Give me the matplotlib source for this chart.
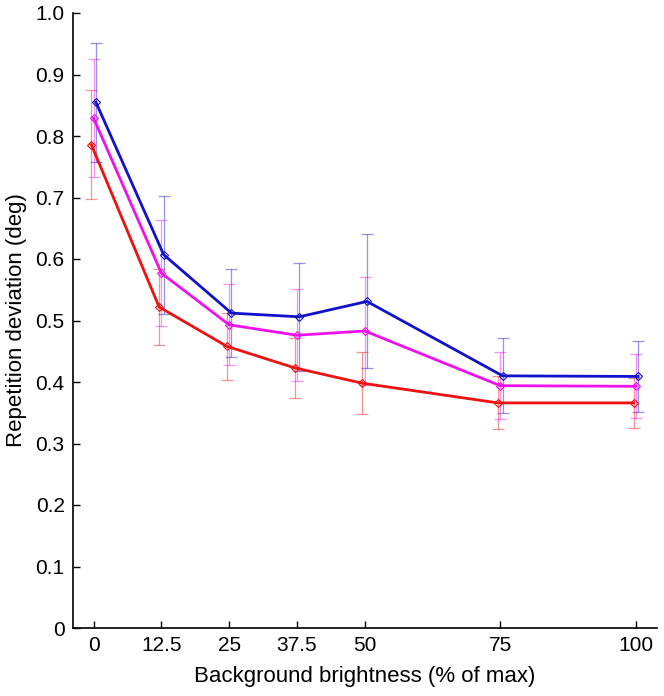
import matplotlib
matplotlib.use("Agg")
import matplotlib.pyplot as plt
import numpy as np

plt.rcParams['font.family'] = ['Liberation Sans', 'DejaVu Sans']

brightness = [0, 12.5, 25, 37.5, 50, 75, 100]
tick_labels = ["0", "12.5", "25", "37.5", "50", "75", "100"]

red_mean = [0.786, 0.522, 0.458, 0.423, 0.398, 0.366, 0.366]
red_err = [0.088, 0.062, 0.055, 0.049, 0.050, 0.043, 0.041]
magenta_mean = [0.829, 0.577, 0.493, 0.476, 0.483, 0.394, 0.393]
magenta_err = [0.096, 0.086, 0.066, 0.075, 0.088, 0.054, 0.052]
blue_mean = [0.855, 0.607, 0.512, 0.506, 0.531, 0.410, 0.409]
blue_err = [0.097, 0.096, 0.071, 0.088, 0.109, 0.061, 0.058]

offsets = {"red": -0.42, "magenta": 0.0, "blue": 0.42}

fig = plt.figure(figsize=(6.64, 6.96), dpi=100)
ax = fig.add_axes([73 / 664, 68 / 696, 584 / 664, 615 / 696])

series = [
    (red_mean, red_err, "#ee1111", "red"),
    (magenta_mean, magenta_err, "#ee11ee", "magenta"),
    (blue_mean, blue_err, "#1111cc", "blue"),
]
x = np.array(brightness)
for mean, err, col, key in series:
    xs = x + offsets[key]
    ax.errorbar(xs, mean, yerr=err, fmt='none', ecolor=col, alpha=0.45,
                elinewidth=0.9, capsize=4, capthick=0.9, zorder=2)
for mean, err, col, key in series:
    xs = x + offsets[key]
    ax.plot(xs, mean, color=col, lw=2.0, marker='D', markersize=4,
            markerfacecolor='none', markeredgecolor=col, markeredgewidth=0.8,
            zorder=3)

ax.set_xlim(-3.8, 103.9)
ax.set_ylim(0, 1.0)
ax.set_xticks(brightness)
ax.set_xticklabels(tick_labels)
yt = np.round(np.arange(0, 1.01, 0.1), 1)
ax.set_yticks(yt)
ax.set_yticklabels(["0"] + [f"{v:.1f}" for v in yt[1:]])
ax.tick_params(direction='in', length=5, width=1, labelsize=15, pad=6)
for s in ['top', 'right']:
    ax.spines[s].set_visible(False)
for s in ['left', 'bottom']:
    ax.spines[s].set_linewidth(1.2)
ax.set_xlabel("Background brightness (% of max)", fontsize=16, labelpad=8)
ax.set_ylabel("Repetition deviation (deg)", fontsize=16, labelpad=6)

fig.savefig("out.png", dpi=100)
